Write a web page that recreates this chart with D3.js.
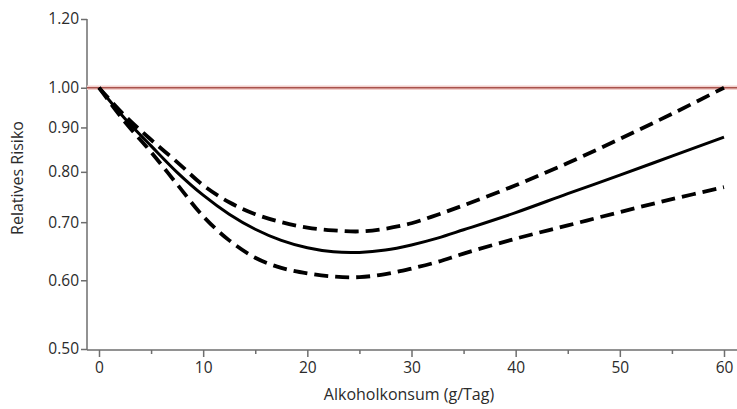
<!DOCTYPE html>
<html><head><meta charset="utf-8">
<script src="https://cdn.jsdelivr.net/npm/d3@7"></script>
<style>body{margin:0;background:#fff}svg{display:block}text{font-family:"Open Sans",sans-serif}</style>
</head><body><svg id="c" width="737" height="409"></svg>
<script>
const consumption = [0, 2.5, 5, 7.5, 10, 12.5, 15, 17.5, 20, 22.5, 25, 27.5, 30, 32.5, 35, 40, 45, 50, 55, 60];
const rrEstimate = [1.0, 0.921, 0.857, 0.799, 0.752, 0.715, 0.687, 0.667, 0.654, 0.647, 0.646, 0.650, 0.659, 0.671, 0.686, 0.718, 0.755, 0.793, 0.834, 0.877];
const rrUpper    = [1.0, 0.928, 0.871, 0.821, 0.772, 0.738, 0.715, 0.700, 0.690, 0.685, 0.683, 0.688, 0.698, 0.714, 0.732, 0.772, 0.819, 0.873, 0.933, 1.0];
const rrLower    = [1.0, 0.913, 0.843, 0.774, 0.711, 0.667, 0.637, 0.620, 0.611, 0.606, 0.605, 0.610, 0.619, 0.630, 0.644, 0.670, 0.694, 0.719, 0.744, 0.768];
const yTicks = [0.5, 0.6, 0.7, 0.8, 0.9, 1.0, 1.2];
const xMajor = [0, 10, 20, 30, 40, 50, 60];
const xMinor = [5, 15, 25, 35, 45, 55];
const reference = 1.0;

const svg = d3.select("#c");
const x = d3.scaleLinear().domain([0, 60]).range([99, 724]);
const y = d3.scaleLog().domain([0.5, 1.2]).range([349, 19]);
const axisX0 = 87, axisY0 = 350;
const axisColor = "#6e6e6e";
const textColor = "#2b2b2b";

// y axis
const gy = svg.append("g").attr("transform", `translate(${axisX0},0)`)
  .call(d3.axisLeft(y).tickValues(yTicks).tickFormat(d3.format(".2f")).tickSize(6).tickSizeOuter(0));
gy.select(".domain").remove();
gy.selectAll(".tick line").attr("stroke", axisColor).attr("stroke-width", 1.5);
gy.selectAll(".tick text").attr("font-size", 15.5).attr("fill", textColor).attr("x", -8);
svg.append("line").attr("x1", axisX0).attr("x2", axisX0).attr("y1", y(1.2)).attr("y2", axisY0)
  .attr("stroke", axisColor).attr("stroke-width", 1.5);

// x axis
const gx = svg.append("g").attr("transform", `translate(0,${axisY0})`)
  .call(d3.axisBottom(x).tickValues(xMajor).tickSize(7).tickSizeOuter(0));
gx.select(".domain").remove();
gx.selectAll(".tick line").attr("stroke", axisColor).attr("stroke-width", 1.5);
gx.selectAll(".tick text").attr("font-size", 15.5).attr("fill", textColor).attr("dy", "0.85em");
const gxm = svg.append("g").attr("transform", `translate(0,${axisY0})`)
  .call(d3.axisBottom(x).tickValues(xMinor).tickSize(4).tickFormat(""));
gxm.select(".domain").remove();
gxm.selectAll(".tick line").attr("stroke", axisColor).attr("stroke-width", 1.5);
svg.append("line").attr("x1", axisX0).attr("x2", 737).attr("y1", axisY0).attr("y2", axisY0)
  .attr("stroke", axisColor).attr("stroke-width", 1.5);

// reference line
svg.append("line").attr("x1", axisX0).attr("x2", 737).attr("y1", y(reference)).attr("y2", y(reference))
  .attr("stroke", "#f2d0cd").attr("stroke-width", 4.5);
svg.append("line").attr("x1", axisX0).attr("x2", 737).attr("y1", y(reference)).attr("y2", y(reference))
  .attr("stroke", "#a9524c").attr("stroke-width", 1.6);

const line = d3.line().x((d, i) => x(consumption[i])).y(d => y(d)).curve(d3.curveCatmullRom.alpha(0.5));
svg.append("path").datum(rrUpper).attr("d", line).attr("fill", "none")
  .attr("stroke", "#000").attr("stroke-width", 3.8).attr("stroke-dasharray", "14,7");
svg.append("path").datum(rrLower).attr("d", line).attr("fill", "none")
  .attr("stroke", "#000").attr("stroke-width", 3.8).attr("stroke-dasharray", "14,7");
svg.append("path").datum(rrEstimate).attr("d", line).attr("fill", "none")
  .attr("stroke", "#000").attr("stroke-width", 3);

// labels
svg.append("text").attr("transform", "translate(23,178) rotate(-90)").attr("text-anchor", "middle")
  .attr("font-size", 16).attr("fill", textColor).text("Relatives Risiko");
svg.append("text").attr("x", 409).attr("y", 400).attr("text-anchor", "middle")
  .attr("font-size", 16).attr("fill", textColor).text("Alkoholkonsum (g/Tag)");
</script></body></html>
